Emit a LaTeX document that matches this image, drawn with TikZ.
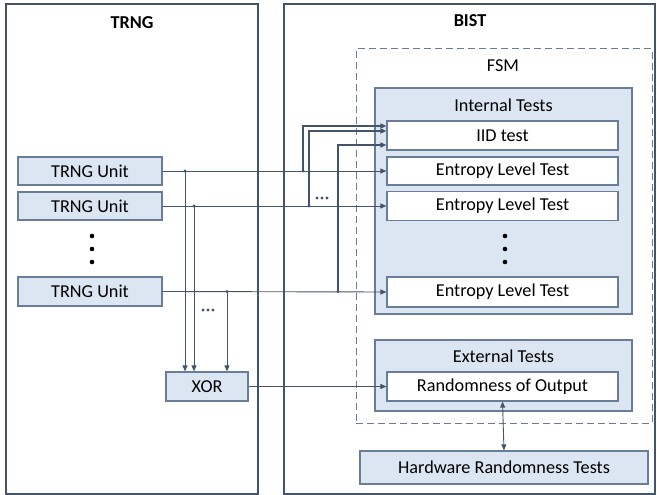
\documentclass[tikz,border=0pt]{standalone}
\usepackage{fontspec}
\setmainfont{Carlito}
\usetikzlibrary{arrows.meta}
\definecolor{fillb}{HTML}{DCE6F2}
\definecolor{edgeb}{HTML}{6A7D98}
\definecolor{dk}{HTML}{44546A}
\begin{document}
\begin{tikzpicture}[x=1pt,y=-1pt,
  every node/.style={font=\fontsize{18.2}{20}\selectfont, text=black, inner sep=0},
  outer/.style={draw=dk, line width=2pt},
  bluebox/.style={draw=edgeb, fill=fillb, line width=1.2pt},
  whitebox/.style={draw=edgeb, fill=white, line width=1.2pt},
  fsmbox/.style={draw=edgeb, line width=1pt, dash pattern=on 7pt off 4pt},
  conn/.style={draw=dk, line width=0.9pt, -{Triangle[length=6pt,width=5pt]}},
  thickconn/.style={draw=dk, line width=1.6pt, -{Triangle[length=6pt,width=5pt]}},
  jdot/.style={fill=dk},
  bigdot/.style={fill=black}
]
\useasboundingbox (0,0) rectangle (657,495);
% outer containers
\node[outer, minimum width=252pt, minimum height=490pt] (trng) at (132,249) {};
\node[outer, minimum width=371pt, minimum height=490pt] (bist) at (469.5,249) {};
\node[font=\fontsize{18.2}{20}\selectfont\bfseries] (trngt) at (132,23) {TRNG};
\node[font=\fontsize{18.2}{20}\selectfont\bfseries] (bistt) at (470,21) {BIST};
% FSM
\node[fsmbox, minimum width=296pt, minimum height=374pt] (fsm) at (504,236) {};
\node (fsmt) at (503,66) {FSM};
\node[bluebox, minimum width=257pt, minimum height=226pt] (internal) at (503.5,201) {};
\node (intt) at (503.5,105) {Internal Tests};
\node[whitebox, minimum width=231pt, minimum height=29pt] (iid) at (502.5,135.5) {IID test};
\node[whitebox, minimum width=231pt, minimum height=28pt] (e1) at (502.5,171) {Entropy Level Test};
\node[whitebox, minimum width=231pt, minimum height=29pt] (e2) at (502.5,206) {Entropy Level Test};
\node[whitebox, minimum width=231pt, minimum height=30pt] (e3) at (502.5,292) {Entropy Level Test};
\node[bluebox, minimum width=257pt, minimum height=71pt] (external) at (503.5,375.5) {};
\node (extt) at (503.5,356) {External Tests};
\node[whitebox, minimum width=231pt, minimum height=29pt] (rand) at (502.5,386.5) {Randomness of Output};
\node[bluebox, minimum width=288pt, minimum height=33pt] (hw) at (504,467.5) {Hardware Randomness Tests};
% TRNG units
\node[bluebox, minimum width=144pt, minimum height=28pt] (u1) at (90,171) {TRNG Unit};
\node[bluebox, minimum width=144pt, minimum height=28pt] (u2) at (90,206) {TRNG Unit};
\node[bluebox, minimum width=144pt, minimum height=29pt] (u3) at (90,291.5) {TRNG Unit};
\node[bluebox, minimum width=82pt, minimum height=29pt] (xor) at (207,386.5) {XOR};
% vertical ellipsis dots
\foreach \yy in {236,249,262} {
  \fill[bigdot] (92,\yy) circle (2.3pt);
  \fill[bigdot] (505,\yy) circle (2.3pt);
}
% junction coordinates
\coordinate (j1a) at (185,171);
\coordinate (j2a) at (194,206);
\coordinate (j3a) at (227,291.5);
\coordinate (j1b) at (303,171);
\coordinate (j2b) at (309,206);
\coordinate (j3b) at (338,291.5);
% horizontal connectors
\draw[conn] (u1.east) -- (e1.west);
\draw[conn] (u2.east) -- (e2.west);
\draw[conn] (u3.east) -- (e3.west);
\draw[conn] (xor.east) -- (rand.west);
% down to XOR
\draw[conn] (j1a) -- (j1a |- xor.north);
\draw[conn] (j2a) -- (j2a |- xor.north);
\draw[conn] (j3a) -- (j3a |- xor.north);
% up to IID
\draw[thickconn] (j1b) |- ([yshift=9.5pt]iid.west);
\draw[thickconn] (j2b) |- ([yshift=4.5pt]iid.west);
\draw[thickconn] (j3b) |- ([yshift=-9.5pt]iid.west);
% Randomness <-> HW
\draw[conn, {Triangle[length=6pt,width=5pt]}-{Triangle[length=6pt,width=5pt]}] (rand.south) -- (hw.north);
% junction dots
\foreach \j in {j1a,j2a,j3a,j1b,j2b,j3b} { \fill[jdot] (\j) circle (1.7pt); }
% horizontal ellipses
\foreach \xx in {317,322,327} { \fill[dk] (\xx,198) circle (1.6pt); }
\foreach \xx in {203,208,213} { \fill[dk] (\xx,310) circle (1.6pt); }
\end{tikzpicture}
\end{document}
